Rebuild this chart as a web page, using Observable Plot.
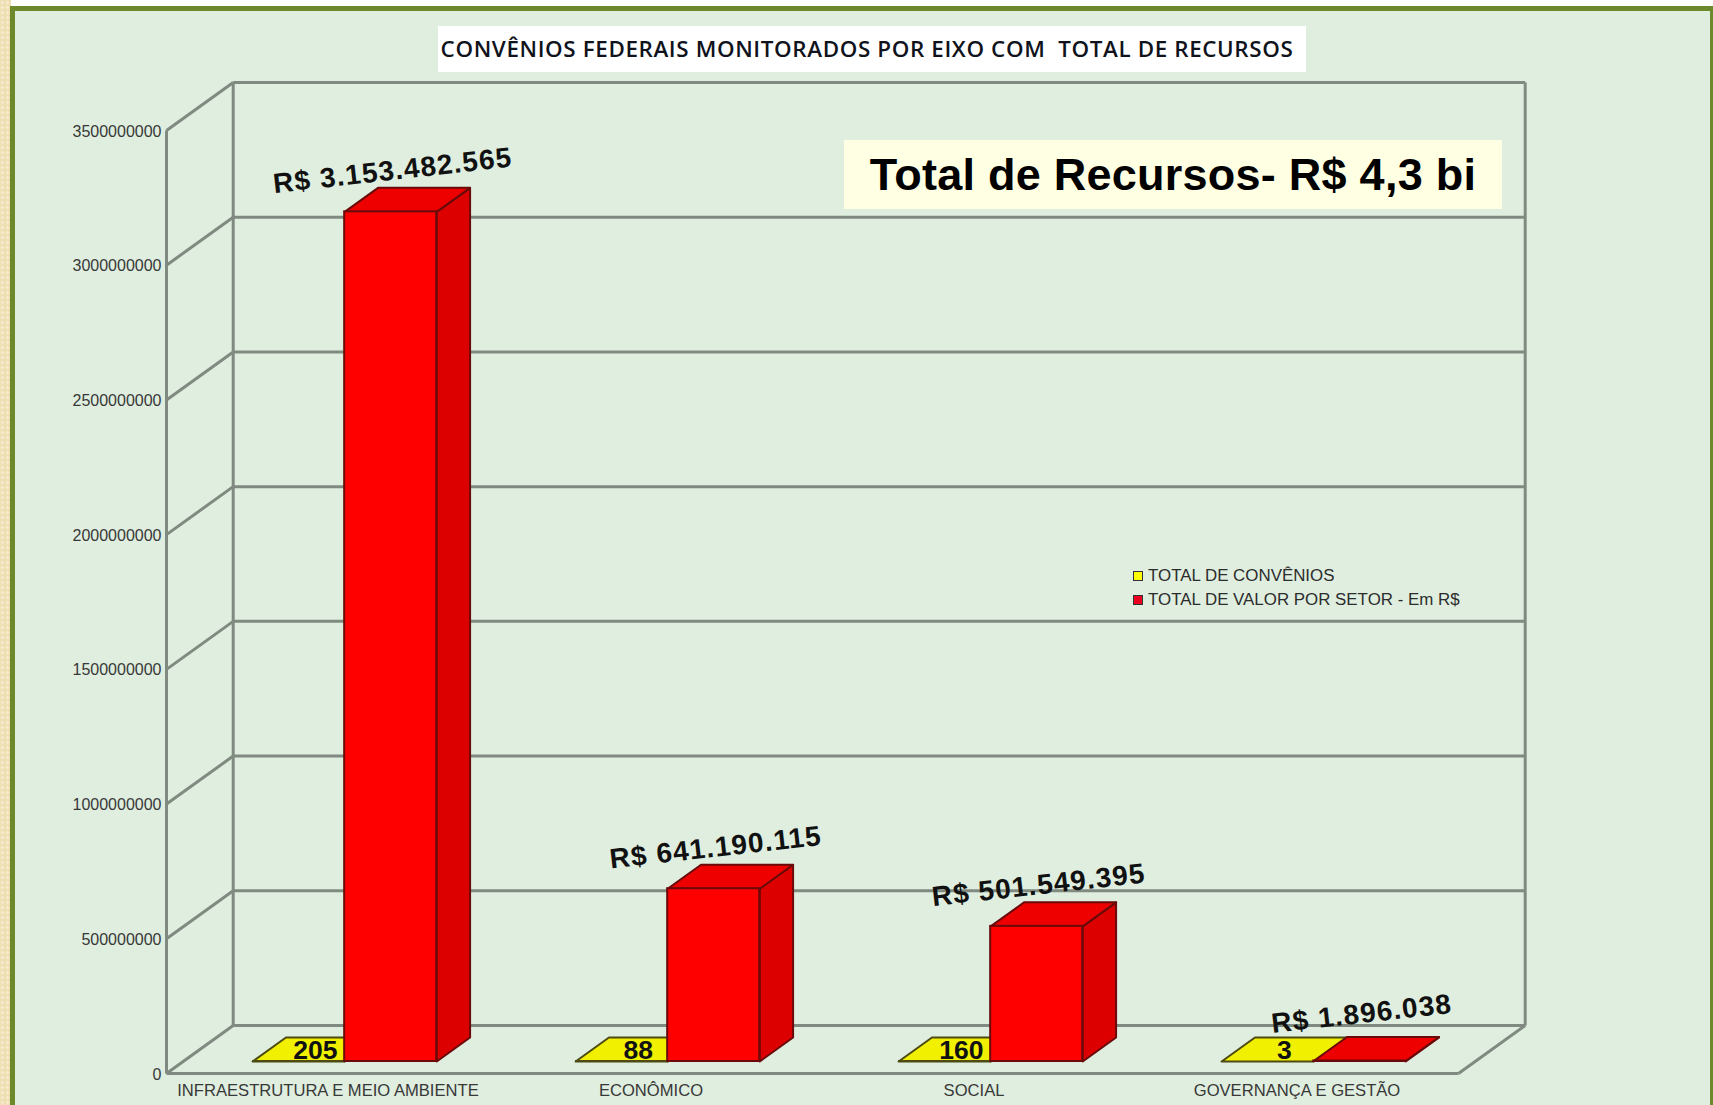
<!DOCTYPE html>
<html lang="pt">
<head>
<meta charset="utf-8">
<title>Convênios federais monitorados por eixo</title>
<script src="https://cdn.jsdelivr.net/npm/d3@7"></script>
<script src="https://cdn.jsdelivr.net/npm/@observablehq/plot@0.6"></script>
<style>
  html, body { margin: 0; padding: 0; background: #fff; }
  #page { position: relative; width: 1713px; height: 1105px; overflow: hidden; background: #fff; }
  #cream { position: absolute; left: 0; top: 0; width: 11px; height: 1105px;
    background-color: #efe0b6;
    background-image: radial-gradient(#f6ecd0 30%, transparent 32%), radial-gradient(#e6d3a2 25%, transparent 27%);
    background-size: 5px 5px; background-position: 0 0, 2px 3px; }
  #panel { position: absolute; left: 10px; top: 6px; width: 1695px; height: 1105px;
    background: #dfeedf; border: 5.5px solid #6c8a2b; border-bottom: 0; }
  #chart { position: absolute; left: 0; top: 0; }
  #title { position: absolute; left: 438px; top: 26px; width: 868px; height: 46px; background: #fff; box-sizing: border-box; padding-right: 10px;
    font: 600 22.4px/46px "Open Sans", sans-serif; color: #10131c; text-align: center; white-space: pre; letter-spacing: .62px; }
  #total { position: absolute; left: 844px; top: 140px; width: 658px; height: 69px; background: #ffffe4;
    font: 700 45px/69px "Liberation Sans", sans-serif; color: #000; text-align: center; white-space: pre; letter-spacing: .25px; }
  #legend { position: absolute; left: 1133px; top: 564px; font: 16.9px/24px "Liberation Sans", sans-serif; color: #2c2c2c; }
  #legend div { display: flex; align-items: center; white-space: pre; }
  #legend i { display: inline-block; width: 8px; height: 8px; border: 1.5px solid #333; margin-right: 5px; }
</style>
</head>
<body>
<div id="page">
  <div id="cream"></div>
  <div id="panel"></div>
  <div id="chart"></div>
  <div id="title">CONVÊNIOS FEDERAIS MONITORADOS POR EIXO COM  TOTAL DE RECURSOS</div>
  <div id="total">Total de Recursos- R$ 4,3 bi</div>
  <div id="legend"></div>
</div>
<script>
const categories = ["INFRAESTRUTURA E MEIO AMBIENTE", "ECONÔMICO", "SOCIAL", "GOVERNANÇA E GESTÃO"];
const totalConvenios = [205, 88, 160, 3];
const totalValor = [3153482565, 641190115, 501549395, 1896038];
const yTicks = [0, 500000000, 1000000000, 1500000000, 2000000000, 2500000000, 3000000000, 3500000000];
const seriesNames = ["TOTAL DE CONVÊNIOS", "TOTAL DE VALOR POR SETOR - Em R$"];
const seriesColors = ["#ffff00", "#e8001e"];

// oblique 3D projection, expressed in data units of the two scales
const depthX = 0.2065, depthY = 178200000, barW = 0.285, near = 0.25, far = 0.75;
const px = (x, d) => x + d * depthX;
const py = (v, d) => v + d * depthY;
const nCat = categories.length;

const yellowBars = categories.map((c, i) => ({category: c, value: totalConvenios[i], x0: i + 0.5 - barW, x1: i + 0.5}));
const redBars = categories.map((c, i) => ({category: c, value: totalValor[i], x0: i + 0.5, x1: i + 0.5 + barW}));

function poly(id, pts) {
  return pts.concat([pts[0]]).map(([x, v, d]) => ({id, x: px(x, d), y: py(v, d)}));
}
const topFaces = bars => bars.flatMap((b, i) => poly(i, [[b.x0, b.value, near], [b.x1, b.value, near], [b.x1, b.value, far], [b.x0, b.value, far]]));
const sideFaces = bars => bars.flatMap((b, i) => poly(i, [[b.x1, 0, near], [b.x1, b.value, near], [b.x1, b.value, far], [b.x1, 0, far]]));

const grid = "#808a80";
const gridSegs = [
  ...yTicks.map(v => [0, v, 1, nCat, v, 1]),       // back wall
  ...yTicks.map(v => [0, v, 0, 0, v, 1]),          // left wall
  [0, 0, 0, 0, yTicks[7], 0],                      // front left edge
  [0, 0, 1, 0, yTicks[7], 1],                      // back left edge
  [nCat, 0, 1, nCat, yTicks[7], 1],                // back right edge
  [0, 0, 0, nCat, 0, 0],                           // floor front
  [nCat, 0, 0, nCat, 0, 1]                         // floor right
];

const spaced = s => function (index, scales, values, dim, ctx, next) {
  const g = next(index, scales, values, dim, ctx);
  g.style.letterSpacing = s;
  return g;
};

const box = (bars, front, side, top, edge) => [
  Plot.line(sideFaces(bars), {x: "x", y: "y", z: "id", fill: side, stroke: edge, strokeWidth: 2}),
  Plot.line(topFaces(bars), {x: "x", y: "y", z: "id", fill: top, stroke: edge, strokeWidth: 2}),
  Plot.rect(bars, {
    x1: d => px(d.x0, near), x2: d => px(d.x1, near),
    y1: () => py(0, near), y2: d => py(d.value, near),
    fill: front, stroke: edge, strokeWidth: 2
  })
];

const valueLabel = (bars, lift) => Plot.text(bars, {
  x: d => px((d.x0 + d.x1) / 2, near), y: d => py(d.value, near), dx: 2, dy: lift,
  text: d => "R$ " + d3.format(",")(d.value).replace(/,/g, "."),
  rotate: -6.4, fontSize: 28, fontWeight: 700, fill: "#111", render: spaced("1.1px")
});

const chart = Plot.plot({
  width: 1713, height: 1105,
  marginLeft: 166, marginRight: 255, marginTop: 130, marginBottom: 32,
  style: {background: "transparent", fontFamily: "'Liberation Sans', sans-serif"},
  x: {type: "linear", domain: [0, nCat]},
  y: {domain: [0, 3500000000]},
  marks: [
    Plot.link(gridSegs, {x1: d => px(d[0], d[2]), y1: d => py(d[1], d[2]), x2: d => px(d[3], d[5]), y2: d => py(d[4], d[5]), stroke: grid, strokeWidth: 3}),
    ...box(yellowBars, "#ffff00", "#d8d800", "#f0f000", "#4d4a12"),
    ...box(redBars, "#ff0000", "#dd0000", "#ee0000", "#6a0a0a"),
    Plot.axisY({ticks: yTicks, tickFormat: d3.format("d"), tickSize: 0, tickPadding: 5, dy: 1, label: null, fontSize: 16, color: "#383838", lineWidth: 20, marginLeft: 166}),
    Plot.axisX({ticks: categories.map((c, i) => i + 0.5), tickFormat: t => categories[t - 0.5], tickSize: 0, tickPadding: 11, label: null, fontSize: 16.6, color: "#383838"}),
    Plot.text(yellowBars, {
      x: d => px((d.x0 + d.x1) / 2, 0.5), y: d => py(d.value, 0.5), dy: 1,
      text: d => String(d.value), fontSize: 26.5, fontWeight: 700, fill: "#111"
    }),
    valueLabel(redBars.slice(0, 3), -41),
    valueLabel(redBars.slice(3), -47)
  ]
});
document.getElementById("chart").append(chart);

const legend = document.getElementById("legend");
seriesNames.forEach((n, i) => {
  const row = document.createElement("div");
  const sw = document.createElement("i");
  sw.style.background = seriesColors[i];
  row.append(sw, document.createTextNode(n));
  legend.append(row);
});
</script>
</body>
</html>
